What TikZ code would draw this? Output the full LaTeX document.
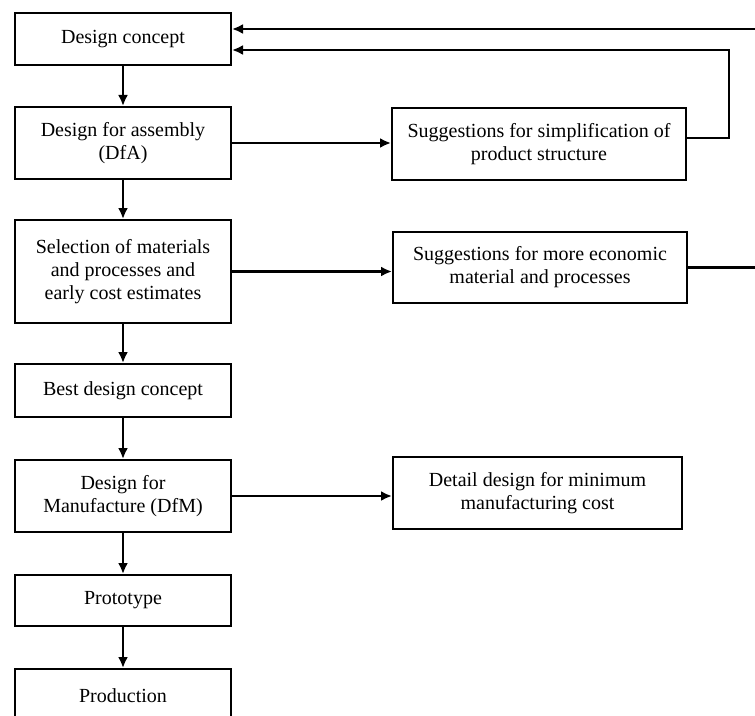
\documentclass[tikz,border=0pt]{standalone}
\usepackage{fontspec}
\setmainfont{Liberation Serif}
\usetikzlibrary{arrows.meta,calc}
\begin{document}
\begin{tikzpicture}[x=1bp,y=-1bp,
  box/.style={draw, line width=2bp, align=center, inner sep=0pt,
    font=\fontsize{20bp}{23bp}\selectfont},
  arr/.style={line width=2.2bp, -{Latex[length=11bp,width=10bp]}},
  ln/.style={line width=2.2bp}]
\useasboundingbox (0,0) rectangle (755,716);
\clip (0,0) rectangle (755,716);
\fill[white] (0,0) rectangle (755,716);
% left column
\node[box, minimum width=216bp, minimum height=52bp] (dc) at (123,39) {Design concept};
\node[box, minimum width=216bp, minimum height=72bp] (dfa) at (123,143) {Design for assembly\\(DfA)};
\node[box, minimum width=216bp, minimum height=103bp] (sel) at (123,271.5) {Selection of materials\\and processes and\\early cost estimates};
\node[box, minimum width=216bp, minimum height=53bp] (best) at (123,390.5) {Best design concept};
\node[box, minimum width=216bp, minimum height=72bp] (dfm) at (123,496) {Design for\\Manufacture (DfM)};
\node[box, minimum width=216bp, minimum height=51bp] (proto) at (123,600.5) {Prototype};
\node[box, minimum width=216bp, minimum height=54bp] (prod) at (123,696) {Production};
% right column
\node[box, minimum width=294bp, minimum height=72bp] (simp) at (539,144) {Suggestions for simplification of\\product structure};
\node[box, minimum width=294bp, minimum height=71bp] (econ) at (540,267.5) {Suggestions for more economic\\material and processes};
\node[box, minimum width=289bp, minimum height=72bp] (det) at (537.5,493) {Detail design for minimum\\manufacturing cost};
% vertical arrows
\draw[arr] (dc) -- (dfa);
\draw[arr] (dfa) -- (sel);
\draw[arr] (sel) -- (best);
\draw[arr] (best) -- (dfm);
\draw[arr] (dfm) -- (proto);
\draw[arr] (proto) -- (prod);
% horizontal arrows
\draw[arr] (dfa.east) -- (dfa.east -| simp.west);
\draw[arr] (sel.east) -- (sel.east -| econ.west);
\draw[arr] (dfm.east) -- (dfm.east -| det.west);
% feedback
\coordinate (topr) at (760,29);
\coordinate (econr) at (760,267.5);
\coordinate (fbx) at (729,138);
\coordinate (fb2) at (729,50);
\draw[arr] (topr) -- (topr -| dc.east);
\draw[arr] (simp.east |- fbx) -- (fbx) -- (fb2) -- (fb2 -| dc.east);
\draw[ln] (econ.east) -- (econr);
\end{tikzpicture}
\end{document}
